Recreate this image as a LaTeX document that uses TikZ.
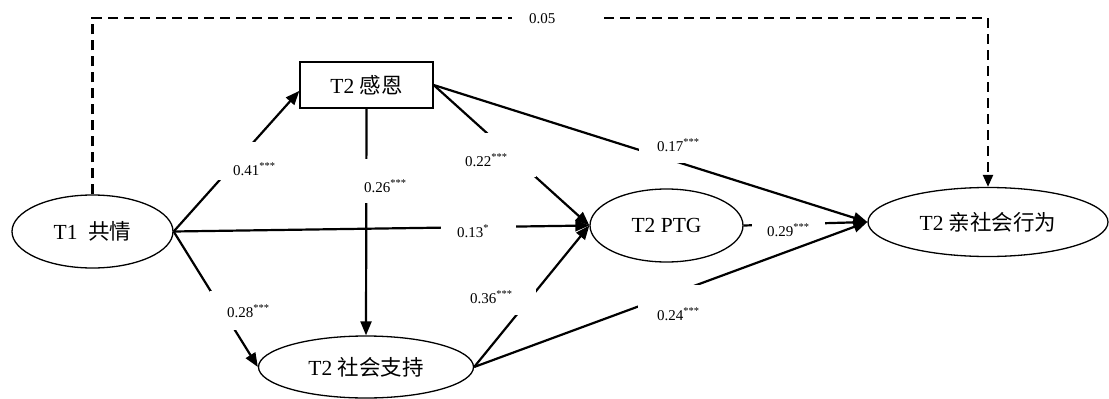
\documentclass[tikz,border=0pt]{standalone}
\usepackage{fontspec}
\setmainfont{Liberation Serif}
\newfontfamily\cjk{Noto Sans CJK SC}
\usetikzlibrary{shapes.geometric,arrows.meta}
\begin{document}
\begin{tikzpicture}[x=1pt,y=-1pt,
  ell/.style={draw,ellipse,line width=1.3pt,inner sep=0pt,font=\fontsize{21.5}{24}\selectfont},
  boxn/.style={draw,rectangle,line width=1.3pt,inner sep=0pt,font=\fontsize{21.5}{24}\selectfont},
  path/.style={line width=2.2pt,-{Triangle[length=14pt,width=11pt]}},
  dpath/.style={line width=2.2pt,dash pattern=on 10pt off 6pt,-{Triangle[length=12pt,width=10pt]}},
  lbl/.style={fill=white,inner sep=0pt,anchor=north west,align=left,font=\fontsize{15}{17}\selectfont}
]
\useasboundingbox (0,0) rectangle (1109,399);
\node[ell,minimum width=161pt,minimum height=73pt] (t1) at (92.5,231.5) {T1\ \ {\cjk 共情}};
\node[boxn,minimum width=133pt,minimum height=46pt] (gan) at (366.5,85) {T2 {\cjk 感恩}};
\node[ell,minimum width=153pt,minimum height=73pt] (ptg) at (666.5,225.5) {T2 PTG};
\node[ell,minimum width=240pt,minimum height=69pt] (pro) at (988,222) {T2 {\cjk 亲社会行为}};
\node[ell,minimum width=215pt,minimum height=62pt] (sup) at (366,367) {T2 {\cjk 社会支持}};
\coordinate (dtop) at (540,18);
% connectors
\draw[dpath] (t1.north) |- (dtop) -| (pro.north);
\draw[path] (t1.east) -- (gan.185);
\draw[path] (t1.east) -- (sup.west);
\draw[path] (t1.east) -- (ptg.west);
\draw[path] (gan.south) -- (sup.north);
\draw[path] (gan.east) -- (ptg.west);
\draw[path] (gan.east) -- (pro.west);
\draw[path] (ptg.east) -- (pro.west);
\draw[path] (sup.east) -- (ptg.west);
\draw[path] (sup.east) -- (pro.west);
% labels (white boxes break the connectors)
\node[lbl,text width=87pt,text height=13pt,text depth=3pt] (l05) at (512,10) {\hspace*{17pt}0.05};
\node[lbl,text width=60pt,text height=33pt,text depth=5pt] (l41) at (218,142) {\hspace*{15pt}0.41\textsuperscript{***}};
\node[lbl,text width=50pt,text height=33pt,text depth=11pt] (l26) at (360,159) {\hspace*{4pt}0.26\textsuperscript{***}};
\node[lbl,text width=73pt,text height=33pt,text depth=11pt] (l22) at (463,133) {\hspace*{2pt}0.22\textsuperscript{***}};
\node[lbl,text width=63pt,text height=16pt,text depth=12pt] (l17) at (639,135) {\hspace*{18pt}0.17\textsuperscript{***}};
\node[lbl,text width=75pt,text height=19pt,text depth=4pt] (l13) at (441,218) {\hspace*{16pt}0.13\textsuperscript{*}};
\node[lbl,text width=73pt,text height=22pt,text depth=0pt] (l29) at (752,214) {\hspace*{15pt}0.29\textsuperscript{***}};
\node[lbl,text width=62pt,text height=26pt,text depth=13pt] (l28) at (210,291) {\hspace*{17pt}0.28\textsuperscript{***}};
\node[lbl,text width=68pt,text height=14pt,text depth=12pt] (l36) at (468,289) {\hspace*{2pt}0.36\textsuperscript{***}};
\node[lbl,text width=64pt,text height=35pt,text depth=2pt] (l24) at (638,285) {\hspace*{19pt}0.24\textsuperscript{***}};
\end{tikzpicture}
\end{document}
